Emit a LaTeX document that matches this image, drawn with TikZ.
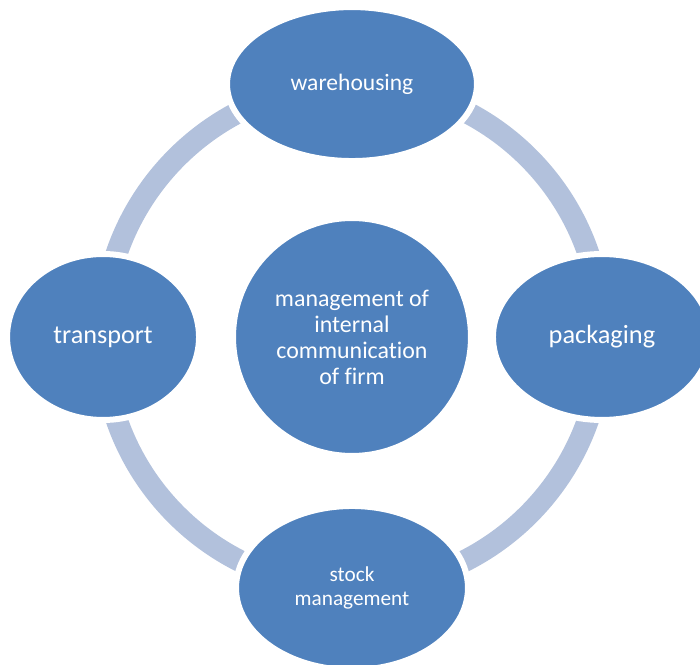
\documentclass[tikz,border=0pt]{standalone}
\usepackage{fontspec}
\setmainfont{Carlito}[Ligatures=NoCommon]
\usetikzlibrary{positioning}
\usetikzlibrary{shapes,backgrounds}
\definecolor{cyclefill}{RGB}{79,129,189}
\definecolor{cycleband}{RGB}{178,193,220}

\begin{document}
\begin{tikzpicture}[x=0.02cm,y=-0.02cm,on grid,main node/.style={ellipse,fill=cyclefill,draw=white,line width=0.12cm,text=white,inner sep=0pt,align=center},band/.style={draw=cycleband,line width=0.44cm}]

		\useasboundingbox (0,0) rectangle (700,665);
		\clip (0,0) rectangle (700,665);

		\node[main node][circle,minimum size=4.76cm][font=\fontsize{13.6}{14.8}\selectfont](1) at (352,337){management of\\internal\\communication\\of firm};
		\node[main node][minimum width=5cm,minimum height=3.08cm][font=\fontsize{13.4}{16}\selectfont](2)[above=5.06cm of 1]{warehousing};
		\node[main node][minimum width=4.36cm,minimum height=3.32cm][font=\fontsize{15}{18}\selectfont](3)[right=5cm of 1]{packaging};
		\node[main node][minimum width=4.64cm,minimum height=3.28cm][font=\fontsize{12.1}{13.7}\selectfont](4)[below=5.02cm of 1]{stock\\management};
		\node[main node][minimum width=3.84cm,minimum height=3.32cm][font=\fontsize{14.9}{18}\selectfont](5)[left=4.98cm of 1]{transport};

		\begin{scope}[on background layer]
		\path (2.center) edge [band, bend left=45] (3.center);
		\path (3.center) edge [band, bend left=45] (4.center);
		\path (4.center) edge [band, bend left=45] (5.center);
		\path (5.center) edge [band, bend left=45] (2.center);
		\end{scope}

	\end{tikzpicture}
\end{document}
